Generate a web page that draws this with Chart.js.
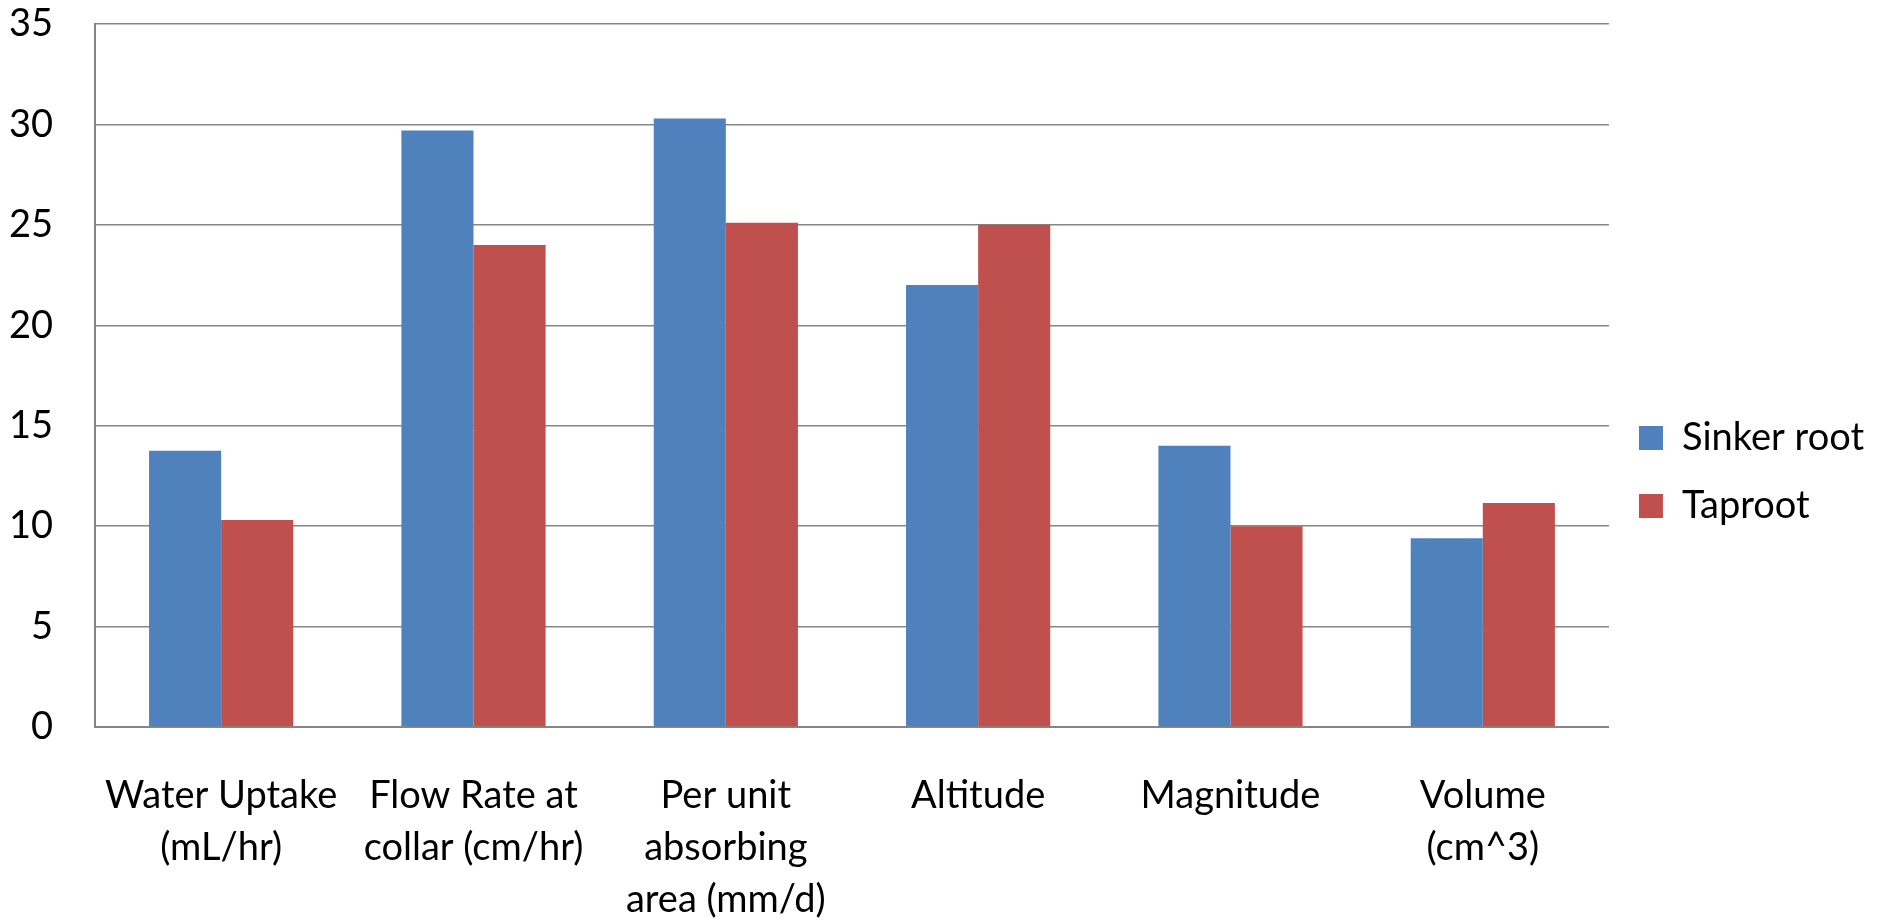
<!DOCTYPE html>
<html>
<head>
<meta charset="utf-8">
<script src="https://cdn.jsdelivr.net/npm/chart.js@4.4.1/dist/chart.umd.min.js"></script>
<style>
  html, body { margin: 0; padding: 0; background: #ffffff; }
  #wrap { width: 1900px; height: 920px; }
</style>
</head>
<body>
<div id="wrap"><canvas id="chart" width="1900" height="920"></canvas></div>
<script>
// Root measurements by category
const categories = [
  ["Water Uptake", "(mL/hr)"],
  ["Flow Rate at", "collar (cm/hr)"],
  ["Per unit", "absorbing", "area (mm/d)"],
  ["Altitude"],
  ["Magnitude"],
  ["Volume", "(cm^3)"]
];
const seriesNames = ["Sinker root", "Taproot"];
const sinkerRoot = [13.75, 29.7, 30.3, 22, 14, 9.4];
const taproot = [10.3, 24, 25.1, 25, 10, 11.15];
const yTicks = [0, 5, 10, 15, 20, 25, 30, 35];

const FONT = "Lato, 'Open Sans', sans-serif";
const GRID = "#868686";
const SIZE = 38;

new Chart(document.getElementById("chart"), {
  type: "bar",
  data: {
    labels: categories,
    datasets: [
      { label: seriesNames[0], data: sinkerRoot, backgroundColor: "#4F81BD" },
      { label: seriesNames[1], data: taproot, backgroundColor: "#C0504D" }
    ]
  },
  options: {
    responsive: false,
    animation: false,
    events: [],
    datasets: { bar: { categoryPercentage: 1 / 1.75, barPercentage: 1 } },
    layout: { padding: { top: 24, right: 26, bottom: 0, left: 0 } },
    plugins: {
      tooltip: { enabled: false },
      legend: {
        position: "right",
        labels: {
          boxWidth: 24,
          boxHeight: 24,
          padding: 30,
          color: "#000000",
          font: { family: FONT, size: SIZE }
        }
      }
    },
    scales: {
      x: {
        grid: { display: true, color: "rgba(0,0,0,0)", drawTicks: false },
        border: { display: true, color: GRID, width: 2 },
        ticks: {
          autoSkip: false,
          maxRotation: 0,
          minRotation: 0,
          padding: 43,
          color: "#000000",
          font: { family: FONT, size: SIZE, lineHeight: 1.37 }
        },
        afterFit(scale) { scale.height = 193; }
      },
      y: {
        min: 0,
        max: 35,
        afterBuildTicks(scale) { scale.ticks = yTicks.map(v => ({ value: v })); },
        grid: { color: GRID, lineWidth: 1.5, drawTicks: false },
        border: { display: true, color: GRID, width: 2 },
        ticks: {
          padding: 42,
          color: "#000000",
          font: { family: FONT, size: SIZE }
        },
        afterFit(scale) {
          scale.width = 95;
          scale.paddingTop = 20;
          scale.paddingBottom = 20;
        }
      }
    }
  }
});
</script>
</body>
</html>
